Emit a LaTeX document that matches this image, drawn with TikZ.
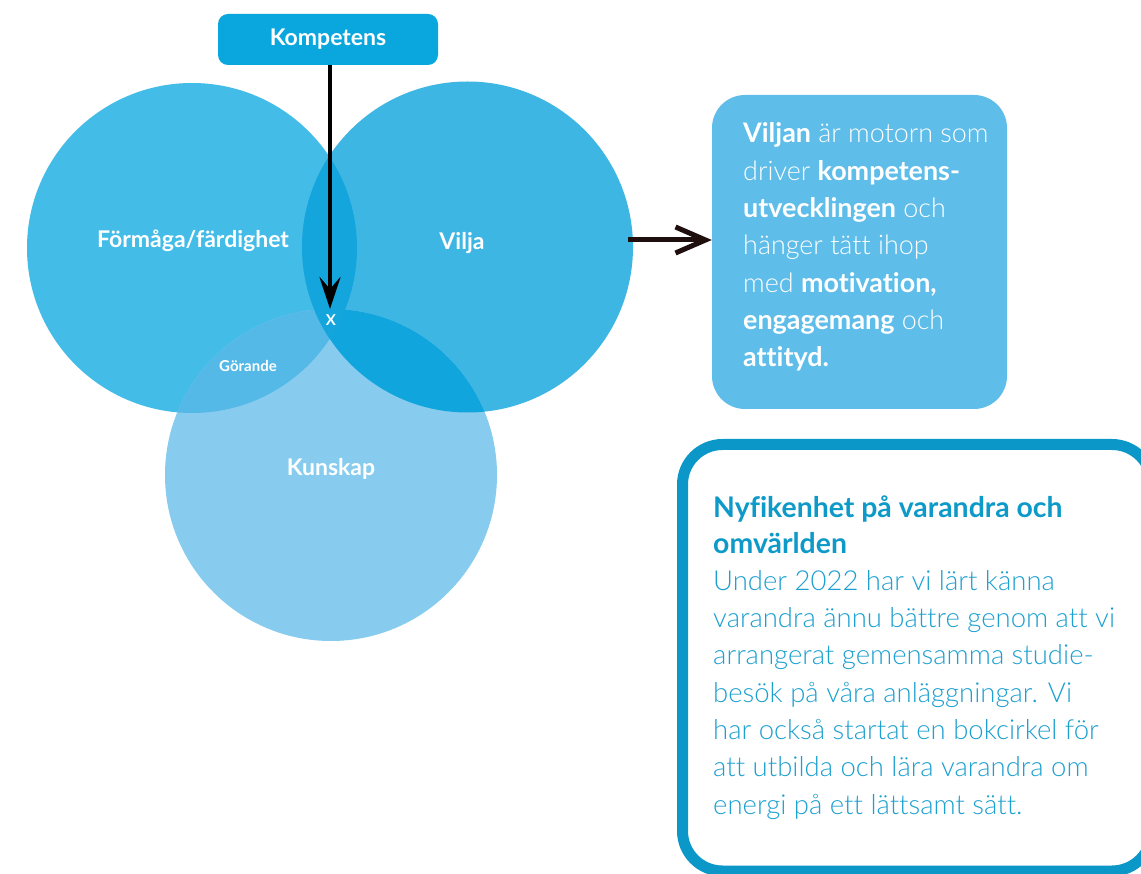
\documentclass[tikz,border=0pt]{standalone}
\usepackage{fontspec}
\setmainfont{Lato}[UprightFont=* Light, BoldFont=* Bold, Ligatures=NoCommon]
\usetikzlibrary{arrows.meta}
\definecolor{cA}{HTML}{44BCE8}
\definecolor{cB}{HTML}{3EB6E4}
\definecolor{cC}{HTML}{87CCEE}
\definecolor{cLens}{HTML}{14A5DC}
\definecolor{cGor}{HTML}{55B9E7}
\definecolor{cRB}{HTML}{10A6DD}
\definecolor{kbox}{HTML}{0AA6DE}
\definecolor{vbox}{HTML}{5FBDE9}
\definecolor{border}{HTML}{0B98C8}
\definecolor{titlec}{HTML}{0E9AC9}
\definecolor{bodyc}{HTML}{1CA0D0}
\definecolor{arrowc}{HTML}{1E0E0E}
\tikzset{
  lbl/.style={text=white,font=\bfseries\fontsize{23}{27}\selectfont,inner sep=0pt},
  smalllbl/.style={text=white,font=\bfseries\fontsize{15}{18}\selectfont,inner sep=0pt},
  kompbox/.style={fill=kbox,rounded corners=10pt,minimum width=220pt,minimum height=51pt,text=white,font=\bfseries\fontsize{23}{27}\selectfont,inner sep=0pt},
  txt/.style={anchor=base west,inner sep=0pt}
}
\begin{document}
\begin{tikzpicture}[x=1pt,y=-1pt]
\clip (0,0) rectangle (1141,874);
\fill[white] (0,0) rectangle (1141,874);
% circles
\coordinate (L) at (192,248);
\coordinate (R) at (467.5,247);
\coordinate (K) at (331,475);
\fill[cA] (L) circle[radius=165pt];
\fill[cB] (R) circle[radius=165.5pt];
\fill[cC] (K) circle[radius=166pt];
\begin{scope}
  \clip (L) circle[radius=165pt];
  \fill[cGor] (K) circle[radius=166pt];
\end{scope}
\begin{scope}
  \clip (R) circle[radius=165.5pt];
  \fill[cRB] (K) circle[radius=166pt];
\end{scope}
\begin{scope}
  \clip (L) circle[radius=165pt];
  \fill[cLens] (R) circle[radius=165.5pt];
\end{scope}
% labels
\node[lbl] (formaga) at (193,241) {Förmåga/färdighet};
\node[lbl] (vilja) at (462,243) {Vilja};
\node[lbl] (kunskap) at (331,469) {Kunskap};
\node[smalllbl] (gorande) at (248,366) {Görande};
\node[lbl,font=\bfseries\fontsize{15}{18}\selectfont] (x) at (331,320) {X};
% Kompetens
\node[kompbox] (komp) at (328,39.5) {Kompetens};
\coordinate (tipK) at (330,309);
\draw[line width=4.5pt,-{Stealth[length=32pt,width=21pt,inset=12pt]}] (komp.south -| tipK) -- (tipK);
% Viljan box
\node[fill=vbox,rounded corners=33pt,minimum width=295pt,minimum height=314pt,inner sep=0pt] (viljan) at (859.5,252) {};
\node[txt,text=white] (viljantxt) at (743,143) {\parbox[t]{270pt}{\fontsize{26.9}{37.3}\selectfont\raggedright
\textbf{Viljan} är motorn som\\
driver \textbf{kompetens-}\\
\textbf{utvecklingen} och\\
hänger tätt ihop\\
med \textbf{motivation,}\\
\textbf{engagemang} och\\
\textbf{attityd.}}};
\coordinate (vE) at (628,240);
\draw[arrowc,line width=5pt,-{Straight Barb[length=30pt,width=26pt]}] (vE) -- (vE -| viljan.west);
% bottom box
\draw[border,line width=11pt,rounded corners=40pt] (682.5,444.5) rectangle (1152,871);
\node[txt,text=titlec] (nyf) at (713,517) {\parbox[t]{420pt}{\bfseries\fontsize{28.4}{36}\selectfont\raggedright
Nyfikenhet på varandra och\\
omvärlden}};
\node[txt,text=bodyc] (under) at (713,590) {\parbox[t]{430pt}{\fontsize{27.5}{37.4}\selectfont\raggedright
Under 2022 har vi lärt känna\\
varandra ännu bättre genom att vi\\
arrangerat gemensamma studie-\\
besök på våra anläggningar. Vi\\
har också startat en bokcirkel för\\
att utbilda och lära varandra om\\
energi på ett lättsamt sätt.}};
\end{tikzpicture}
\end{document}
